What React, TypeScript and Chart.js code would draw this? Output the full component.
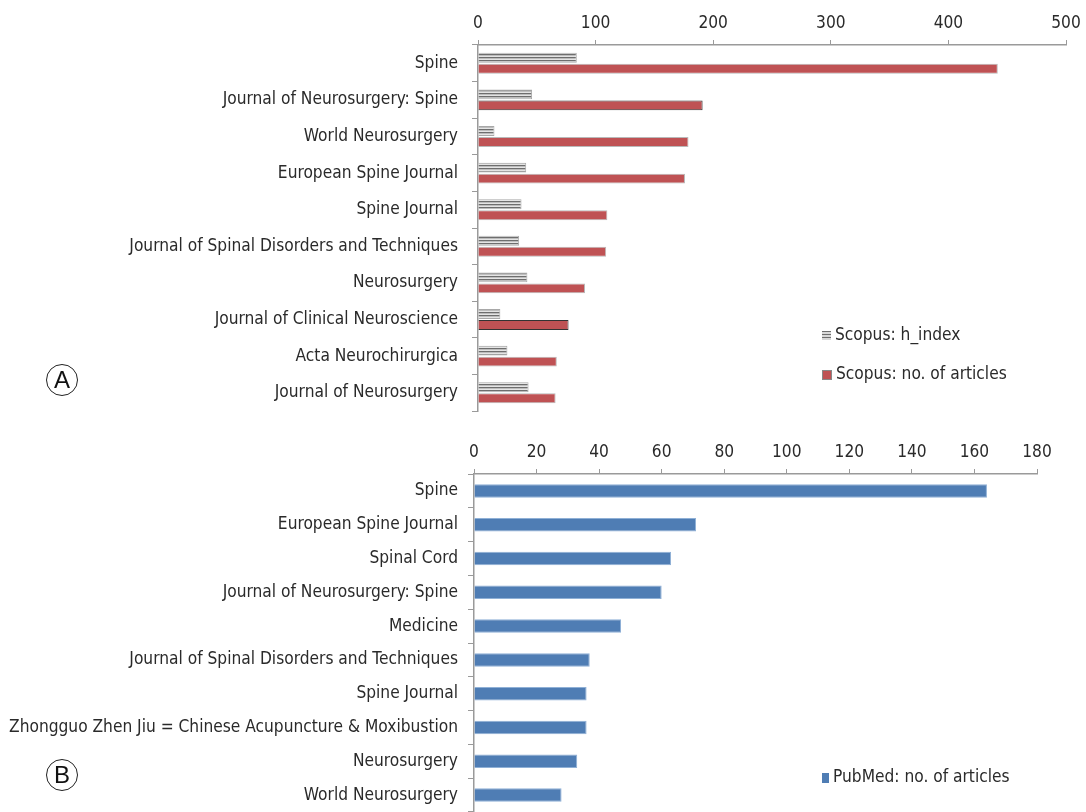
import React, { useEffect, useRef } from "react";
import { Chart, registerables } from "chart.js";

Chart.register(...registerables);

const scopusJournals = [
  "Spine",
  "Journal of Neurosurgery: Spine",
  "World Neurosurgery",
  "European Spine Journal",
  "Spine Journal",
  "Journal of Spinal Disorders and Techniques",
  "Neurosurgery",
  "Journal of Clinical Neuroscience",
  "Acta Neurochirurgica",
  "Journal of Neurosurgery",
];
const scopusHIndex = [84, 46, 14, 41, 37, 35, 42, 19, 25, 43];
const scopusArticles = [442, 191, 179, 176, 110, 109, 91, 77, 67, 66];

const pubmedJournals = [
  "Spine",
  "European Spine Journal",
  "Spinal Cord",
  "Journal of Neurosurgery: Spine",
  "Medicine",
  "Journal of Spinal Disorders and Techniques",
  "Spine Journal",
  "Zhongguo Zhen Jiu = Chinese Acupuncture & Moxibustion",
  "Neurosurgery",
  "World Neurosurgery",
];
const pubmedArticles = [164, 71, 63, 60, 47, 37, 36, 36, 33, 28];

const scopusAxisMax = 500;
const scopusAxisStep = 100;
const pubmedAxisMax = 180;
const pubmedAxisStep = 20;

const FONT = "'Liberation Sans Narrow', 'DejaVu Sans Condensed', 'Arial Narrow', sans-serif";
const FONT_SIZE = 17.2;
const TEXT = "#2a2a2a";
const AXIS = "#9a9a9a";

function makeStripe(): CanvasPattern | string {
  const c = document.createElement("canvas");
  c.width = 4;
  c.height = 3;
  const g = c.getContext("2d");
  if (!g) return "#aaa";
  g.fillStyle = "#e4e4e4";
  g.fillRect(0, 0, 4, 3);
  g.fillStyle = "#6e6e6e";
  g.fillRect(0, 0, 4, 1);
  g.fillStyle = "#bdbdbd";
  g.fillRect(0, 1, 4, 1);
  const p = g.createPattern(c, "repeat");
  return p || "#aaa";
}

function axisOptions(max: number, step: number, topHeight: number, yWidth: number, yPad: number) {
  return {
    x: {
      position: "top" as const,
      min: 0,
      max,
      ticks: {
        stepSize: step,
        color: TEXT,
        font: { family: FONT, size: FONT_SIZE },
        padding: 6,
        maxRotation: 0,
      },
      grid: { drawOnChartArea: false, drawTicks: true, tickLength: 5, color: AXIS },
      border: { color: AXIS, width: 1.5 },
      afterFit: (s: any) => {
        s.height = topHeight;
        s.paddingLeft = 0;
        s.paddingRight = 0;
      },
    },
    y: {
      ticks: {
        color: TEXT,
        font: { family: FONT, size: FONT_SIZE },
        padding: yPad,
        autoSkip: false,
      },
      grid: { drawOnChartArea: false, drawTicks: true, tickLength: 6, color: AXIS },
      border: { color: AXIS, width: 1.5 },
      afterFit: (s: any) => {
        s.width = yWidth;
        s.paddingTop = 0;
        s.paddingBottom = 0;
      },
    },
  };
}

function ChartA() {
  const ref = useRef<HTMLCanvasElement | null>(null);
  useEffect(() => {
    if (!ref.current) return;
    const stripe = makeStripe();
    const redBorders = scopusArticles.map((_, i) => (i === 1 || i === 7 ? "#333" : "#b9b9b9"));
    const chart = new Chart(ref.current, {
      type: "bar",
      data: {
        labels: scopusJournals,
        datasets: [
          {
            label: "Scopus: h_index",
            data: scopusHIndex,
            backgroundColor: stripe as any,
            borderColor: "#a8a8a8",
            borderWidth: 1,
            categoryPercentage: 0.6,
            barPercentage: 0.9,
          },
          {
            label: "Scopus: no. of articles",
            data: scopusArticles,
            backgroundColor: "#bf5254",
            borderColor: redBorders,
            borderWidth: 1,
            categoryPercentage: 0.6,
            barPercentage: 0.9,
          },
        ],
      },
      options: {
        indexAxis: "y",
        animation: false,
        responsive: false,
        maintainAspectRatio: false,
        layout: { padding: { left: 0, right: 20, top: 0, bottom: 9 } },
        plugins: { legend: { display: false }, tooltip: { enabled: false } },
        scales: axisOptions(scopusAxisMax, scopusAxisStep, 45, 478, 14) as any,
      },
    });
    return () => chart.destroy();
  }, []);
  return <canvas ref={ref} width={1086} height={420} style={{ position: "absolute", left: 0, top: 0 }} />;
}

function ChartB() {
  const ref = useRef<HTMLCanvasElement | null>(null);
  useEffect(() => {
    if (!ref.current) return;
    const chart = new Chart(ref.current, {
      type: "bar",
      data: {
        labels: pubmedJournals,
        datasets: [
          {
            label: "PubMed: no. of articles",
            data: pubmedArticles,
            backgroundColor: "#4f7db4",
            borderColor: "#8fb0d6",
            borderWidth: 1,
            categoryPercentage: 1,
            barPercentage: 0.4,
          },
        ],
      },
      options: {
        indexAxis: "y",
        animation: false,
        responsive: false,
        maintainAspectRatio: false,
        layout: { padding: { left: 0, right: 49, top: 0, bottom: 0 } },
        plugins: { legend: { display: false }, tooltip: { enabled: false } },
        scales: axisOptions(pubmedAxisMax, pubmedAxisStep, 54, 474, 10) as any,
      },
    });
    return () => chart.destroy();
  }, []);
  return <canvas ref={ref} width={1086} height={392} style={{ position: "absolute", left: 0, top: 420 }} />;
}

function LegendItem({ x, y, swatch, text }: { x: number; y: number; swatch: React.CSSProperties; text: string }) {
  return (
    <div style={{ position: "absolute", left: x, top: y - 11, height: 22, display: "flex", alignItems: "center", fontFamily: FONT, fontSize: FONT_SIZE, color: TEXT, whiteSpace: "nowrap" }}>
      <span style={{ display: "inline-block", width: 9, height: 9, marginRight: 4, marginTop: 3, ...swatch }} />
      <span>{text}</span>
    </div>
  );
}

function Circled({ x, y, letter }: { x: number; y: number; letter: string }) {
  return (
    <div style={{ position: "absolute", left: x - 16, top: y - 16, width: 30, height: 30, border: "1.3px solid #222", borderRadius: "50%", display: "flex", alignItems: "center", justifyContent: "center", fontFamily: "'Liberation Sans', Arial, sans-serif", fontSize: 24, color: "#111" }}>
      {letter}
    </div>
  );
}

export default function App() {
  return (
    <div style={{ position: "absolute", left: 0, top: 0, width: 1086, height: 812, background: "#fff", overflow: "hidden" }}>
      <ChartA />
      <ChartB />
      <LegendItem x={822} y={334} text="Scopus: h_index" swatch={{ background: "repeating-linear-gradient(to bottom, #6e6e6e 0 1px, #d8d8d8 1px 3px)" }} />
      <LegendItem x={822} y={373} text="Scopus: no. of articles" swatch={{ background: "#bf5254", border: "1px solid #888", width: 8, height: 8 }} />
      <LegendItem x={822} y={776} text="PubMed: no. of articles" swatch={{ background: "#4f7db4", width: 7, height: 10 }} />
      <Circled x={62} y={380} letter="A" />
      <Circled x={62} y={775} letter="B" />
    </div>
  );
}
